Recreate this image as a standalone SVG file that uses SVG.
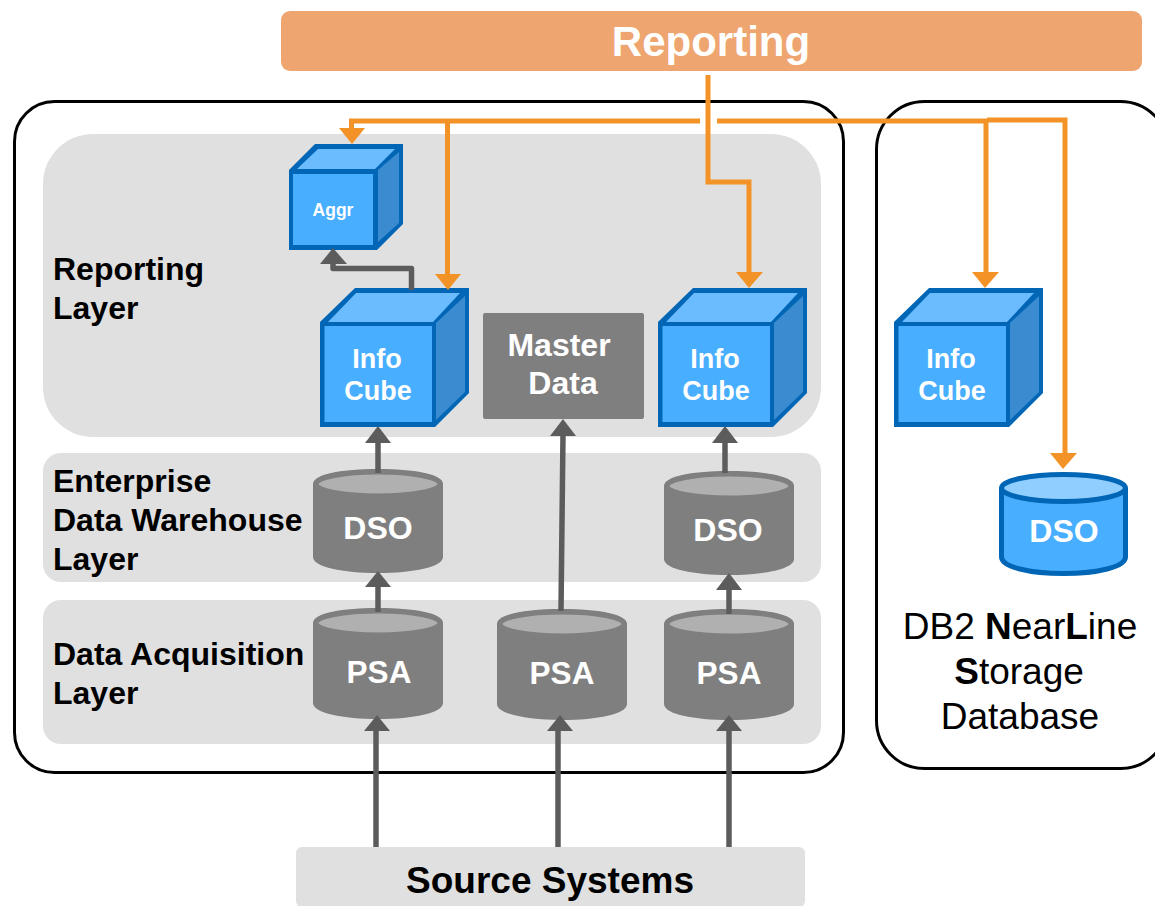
<svg xmlns="http://www.w3.org/2000/svg" width="1155" height="906" viewBox="0 0 1155 906">
<style>
text{font-family:"Liberation Sans",Arial,sans-serif;text-anchor:middle}
.b{font-weight:bold}
.w{fill:#fff;font-weight:bold}
.lab{fill:#000;font-weight:bold;font-size:32px;text-anchor:start}
.layer{fill:#e0e0e0}
.box{fill:#fff;stroke:#000;stroke-width:3}
.cout{fill:#0066b5}
.cf{fill:#48aeff}
.ct{fill:#6bbcff}
.cs{fill:#3b8bd0}
.gb{fill:#7f7f7f}
.gt{fill:#b0b0b0;stroke:#7f7f7f;stroke-width:5}
.bb{fill:#48aeff;stroke:#0066b5;stroke-width:5}
.bt{fill:#90ceff;stroke:#0066b5;stroke-width:5}
.o{fill:none;stroke:#f39327;stroke-width:5;stroke-linejoin:miter}
.g{fill:none;stroke:#5c5c5c;stroke-width:5.500;stroke-linejoin:round}
</style>
<defs>
<g id="cube"><path class="cout" d="M0 34 L35 0 H149 V105 L115 139 H0Z"/><path class="ct" d="M8 34 L36 5 H140 L113 34Z"/><path class="cs" d="M116 35 L145 8 V104 L116 132Z"/><rect class="cf" x="4.500" y="38" width="107.500" height="96"/></g>
<g id="gcyl"><path class="gb" d="M0 15 C0 5 30 0 65 0 C100 0 130 5 130 15 V88 C130 98 100 104 65 104 C30 104 0 98 0 88Z"/><ellipse class="gt" cx="65" cy="15" rx="62" ry="12"/></g>
<g id="gcyl2"><path class="gb" d="M0 15 C0 5 30 0 65 0 C100 0 130 5 130 15 V95 C130 105 100 111 65 111 C30 111 0 105 0 95Z"/><ellipse class="gt" cx="65" cy="15" rx="62" ry="12"/></g>
</defs>
<rect x="14.500" y="101.500" width="829" height="671" rx="40" class="box"/>
<rect x="876.500" y="101.500" width="292" height="667" rx="48" class="box"/>
<g id="layers">
<rect x="43" y="134" width="778" height="303" rx="50" class="layer"/>
<rect x="43" y="453" width="778" height="129" rx="18" class="layer"/>
<rect x="43" y="600" width="778" height="144" rx="18" class="layer"/>
</g>
<g id="reporting"><rect x="281" y="11" width="861" height="60" rx="9" fill="#eea56f"/><text x="711" y="56" class="w" font-size="42">Reporting</text></g>
<g id="source"><rect x="296" y="847" width="509" height="60" rx="6" fill="#e0e0e0"/><text x="550" y="893" class="b" font-size="37">Source Systems</text></g>
<g id="labels">
<text class="lab" x="53" y="280">Reporting</text><text class="lab" x="53" y="319">Layer</text>
<text class="lab" x="53" y="492">Enterprise</text><text class="lab" x="53" y="531">Data Warehouse</text><text class="lab" x="53" y="570">Layer</text>
<text class="lab" x="53" y="665">Data Acquisition</text><text class="lab" x="53" y="704">Layer</text>
</g>
<g id="aggr"><path class="cout" d="M289 170 L315 144 H403 V224 L377 250 H289Z"/><path class="ct" d="M297 169 L318 149 H395 L375 169Z"/><path class="cs" d="M378 170 L399 152 V223 L378 242Z"/><rect x="293" y="174" width="80" height="71" class="cf"/><text x="333" y="216" class="w" font-size="17.500">Aggr</text></g>
<g id="cube1"><use href="#cube" x="320" y="288"/><text x="377" y="368" class="w" font-size="27">Info</text><text x="378" y="400" class="w" font-size="27">Cube</text></g>
<g id="cube2"><use href="#cube" x="658" y="288"/><text x="715" y="368" class="w" font-size="27">Info</text><text x="716" y="400" class="w" font-size="27">Cube</text></g>
<g id="cube3"><use href="#cube" x="894" y="288"/><text x="951" y="368" class="w" font-size="27">Info</text><text x="952" y="400" class="w" font-size="27">Cube</text></g>
<g id="master"><rect x="483" y="313" width="161" height="106" rx="2" fill="#7f7f7f"/><text x="559" y="356" class="w" font-size="32">Master</text><text x="563" y="394" class="w" font-size="32">Data</text></g>
<g id="dso1"><use href="#gcyl" x="313" y="469"/><text x="378" y="539" class="w" font-size="32">DSO</text></g>
<g id="dso2"><use href="#gcyl" x="664" y="471"/><text x="728" y="541" class="w" font-size="32">DSO</text></g>
<g id="psa1"><use href="#gcyl2" x="313" y="608"/><text x="379" y="683" class="w" font-size="31.500">PSA</text></g>
<g id="psa2"><use href="#gcyl2" x="497" y="609"/><text x="562" y="684" class="w" font-size="31.500">PSA</text></g>
<g id="psa3"><use href="#gcyl2" x="664" y="609"/><text x="729" y="684" class="w" font-size="31.500">PSA</text></g>
<g id="dso3"><path class="bb" d="M1001.500 488 V557 C1001.500 567 1030 573.500 1063.500 573.500 C1097 573.500 1125.500 567 1125.500 557 V488"/><ellipse class="bt" cx="1063.500" cy="488" rx="62" ry="13.500"/><text x="1064" y="542" class="w" font-size="32">DSO</text></g>
<g id="nls" font-size="37"><text x="1020" y="639">DB2 <tspan class="b">N</tspan>ear<tspan class="b">L</tspan>ine</text><text x="1019" y="684"><tspan class="b">S</tspan>torage</text><text x="1020" y="729">Database</text></g>
<g id="connectors">
<path class="g" d="M378 473 V440"/><path class="g" d="M378 612 V586"/><path class="g" d="M561 611 L563 434"/><path class="g" d="M725 473 V440"/><path class="g" d="M729 614 V588"/>
<path class="g" d="M376 847 V730"/><path class="g" d="M558 847 V730"/><path class="g" d="M729 847 V730"/>
<path class="g" d="M411.500 290 V268.500 H333 V260"/>
<g fill="#5c5c5c">
<path d="M378 426 L391 443 H365Z"/><path d="M378 571 L391 587 H365Z"/><path d="M563 419 L576 436 H550Z"/><path d="M725 426 L738 443 H712Z"/><path d="M729 573 L742 590 H716Z"/>
<path d="M377 715 L390 731 H364Z"/><path d="M560 715 L573 731 H547Z"/><path d="M729 715 L742 731 H716Z"/><path d="M333 248 L347 264 H320Z"/>
</g>
<path class="o" d="M351.500 130 V121 H700"/><path class="o" d="M717 121 H987"/><path class="o" d="M447.500 123 V275"/><path class="o" d="M708 75 V182 H749 V275"/><path class="o" d="M986 121 V275"/><path class="o" d="M987 120 H1065 V455"/>
<g fill="#f39327">
<path d="M339 128 H365 L352 144Z"/><path d="M435 274 H461 L448 290Z"/><path d="M736 272 H763 L749 288Z"/><path d="M972 272 H999 L985 288Z"/><path d="M1050 453 H1077 L1063 469Z"/>
</g>
</g>
</svg>
